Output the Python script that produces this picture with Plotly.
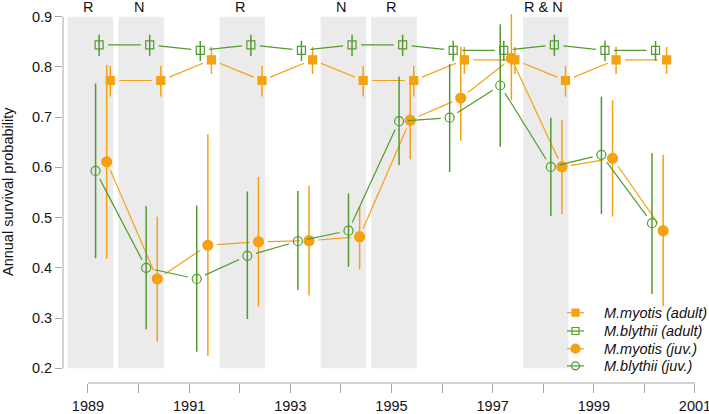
import math
import plotly.graph_objects as go

# ---------------- data ----------------
years = list(range(1989, 2001))

myo_ad = [0.773, 0.773, 0.814, 0.773, 0.814, 0.773, 0.773, 0.814, 0.814, 0.773, 0.814, 0.814]
myo_ad_lo = [0.741, 0.741, 0.786, 0.741, 0.786, 0.741, 0.741, 0.786, 0.786, 0.741, 0.786, 0.786]
myo_ad_hi = [0.802, 0.802, 0.840, 0.802, 0.840, 0.802, 0.802, 0.840, 0.840, 0.802, 0.840, 0.840]

bly_ad = [0.844, 0.844, 0.833, 0.844, 0.833, 0.844, 0.844, 0.833, 0.833, 0.844, 0.833, 0.833]
bly_ad_lo = [0.822, 0.822, 0.812, 0.822, 0.812, 0.822, 0.822, 0.812, 0.812, 0.822, 0.812, 0.812]
bly_ad_hi = [0.864, 0.864, 0.852, 0.864, 0.852, 0.864, 0.864, 0.852, 0.852, 0.864, 0.852, 0.852]

myo_juv = [0.611, 0.378, 0.445, 0.452, 0.454, 0.462, 0.694, 0.738, 0.817, 0.601, 0.618, 0.474]
myo_juv_lo = [0.418, 0.253, 0.225, 0.323, 0.345, 0.397, 0.616, 0.653, 0.734, 0.507, 0.502, 0.324]
myo_juv_hi = [0.804, 0.502, 0.666, 0.581, 0.563, 0.522, 0.780, 0.840, 0.905, 0.694, 0.734, 0.625]

bly_juv = [0.593, 0.400, 0.378, 0.424, 0.453, 0.474, 0.692, 0.699, 0.763, 0.601, 0.625, 0.489]
bly_juv_lo = [0.419, 0.278, 0.233, 0.298, 0.356, 0.402, 0.605, 0.591, 0.641, 0.503, 0.507, 0.348]
bly_juv_hi = [0.767, 0.523, 0.524, 0.552, 0.553, 0.548, 0.781, 0.806, 0.885, 0.699, 0.741, 0.628]

# x offsets of each series within a year
off_bly_juv, off_bly_ad, off_myo_juv, off_myo_ad = 0.15, 0.22, 0.37, 0.44

# shaded periods and their labels
band_start = [1988.6, 1989.6, 1991.6, 1993.6, 1994.6, 1997.6]
band_end = [1989.5, 1990.5, 1992.5, 1994.5, 1995.5, 1998.5]
label_years = [1989, 1990, 1992, 1994, 1995, 1998]
label_texts = ["R", "N", "R", "N", "R", "R & N"]

x_tick_vals = list(range(1989, 2002))
x_tick_text = [str(v) if v % 2 == 1 else "" for v in x_tick_vals]
y_tick_vals = [0.2, 0.3, 0.4, 0.5, 0.6, 0.7, 0.8, 0.9]

# ---------------- styling / layout ----------------
ORANGE = "#F4A112"
GREEN = "#519B2E"
BAND = "#EBEBEB"
AXC = "#A6A6A6"
FONT = "Liberation Sans, Arial, sans-serif"
FS = 14.5

W, H = 709, 414
ML, MR, MT, MB = 63, 9, 3, 31
XR = [1988.506, 2001.099]
YR = [0.17075, 0.92727]
SX = (W - ML - MR) / (XR[1] - XR[0])
SY = (H - MT - MB) / (YR[1] - YR[0])
GAP = 9.0

# legend layout (page pixels)
LEG_X0, LEG_X1, LEG_TX = 567, 584, 602
LEG_ROWS = [312.7, 331.0, 348.7, 365.9]


def gapped(xs, ys, gap=GAP):
    X, Y = [], []
    for i in range(len(xs) - 1):
        dx = (xs[i + 1] - xs[i]) * SX
        dy = (ys[i + 1] - ys[i]) * SY
        d = math.hypot(dx, dy)
        if d <= 2 * gap:
            continue
        f = gap / d
        X += [xs[i] + (xs[i + 1] - xs[i]) * f, xs[i + 1] - (xs[i + 1] - xs[i]) * f, None]
        Y += [ys[i] + (ys[i + 1] - ys[i]) * f, ys[i + 1] - (ys[i + 1] - ys[i]) * f, None]
    return X, Y


series = [
    ("M.myotis (adult)", off_myo_ad, myo_ad, myo_ad_lo, myo_ad_hi, ORANGE, "square", 8),
    ("M.blythii (adult)", off_bly_ad, bly_ad, bly_ad_lo, bly_ad_hi, GREEN, "square-open", 8),
    ("M.myotis (juv.)", off_myo_juv, myo_juv, myo_juv_lo, myo_juv_hi, ORANGE, "circle", 10),
    ("M.blythii (juv.)", off_bly_juv, bly_juv, bly_juv_lo, bly_juv_hi, GREEN, "circle-open", 9),
]

fig = go.Figure()

for name, off, vals, lo, hi, col, sym, size in series:
    xs = [y + off for y in years]
    gx, gy = gapped(xs, vals)
    fig.add_trace(go.Scatter(x=gx, y=gy, mode="lines", line=dict(color=col, width=1.2),
                             showlegend=False, hoverinfo="skip"))
    fig.add_trace(go.Scatter(
        x=xs, y=vals, mode="markers",
        marker=dict(symbol=sym, size=size, color=col, line=dict(color=col, width=1.2)),
        error_y=dict(type="data", symmetric=False,
                     array=[h - v for h, v in zip(hi, vals)],
                     arrayminus=[v - l for v, l in zip(vals, lo)],
                     color=col, thickness=1.5, width=0),
        showlegend=False, name=name))

annotations = []
# custom legend drawn on an overlay axis measured in page pixels
for (name, off, vals, lo, hi, col, sym, size), ry in zip(series, LEG_ROWS):
    fig.add_trace(go.Scatter(x=[LEG_X0, LEG_X1], y=[ry, ry], mode="lines",
                             line=dict(color=col, width=1.2), xaxis="x2", yaxis="y2",
                             showlegend=False, hoverinfo="skip"))
    fig.add_trace(go.Scatter(x=[(LEG_X0 + LEG_X1) / 2], y=[ry], mode="markers",
                             marker=dict(symbol=sym, size=size - 1, color=col,
                                         line=dict(color=col, width=1.2)),
                             xaxis="x2", yaxis="y2", showlegend=False, hoverinfo="skip"))
    annotations.append(dict(x=LEG_TX, y=ry, xref="x2", yref="y2", text="<i>" + name + "</i>",
                            xanchor="left", yanchor="middle", showarrow=False,
                            font=dict(size=FS, color="#111", family=FONT)))

shapes = []
for s, e in zip(band_start, band_end):
    shapes.append(dict(type="rect", xref="x", yref="y", x0=s, x1=e, y0=0.2, y1=0.9,
                       fillcolor=BAND, line=dict(width=0), layer="below"))
shapes.append(dict(type="line", xref="x", yref="paper", x0=x_tick_vals[0], x1=x_tick_vals[-1], y0=0, y1=0,
                   line=dict(color=AXC, width=1)))
shapes.append(dict(type="line", xref="paper", yref="y", x0=0, x1=0, y0=y_tick_vals[0], y1=y_tick_vals[-1],
                   line=dict(color=AXC, width=1)))

for yr, t in zip(label_years, label_texts):
    annotations.append(dict(x=yr, y=0.919, xref="x", yref="y", text=t, showarrow=False,
                            yanchor="middle",
                            font=dict(size=FS, color="#111", family=FONT)))
annotations.append(dict(x=(8 - ML) / (W - ML - MR), y=(H - MB - 192) / (H - MT - MB),
                        xref="paper", yref="paper", xanchor="center", yanchor="middle",
                        text="Annual survival probability", textangle=-90, showarrow=False,
                        font=dict(size=FS, color="#111", family=FONT)))

fig.update_layout(
    width=W, height=H,
    margin=dict(l=ML, r=MR, t=MT, b=MB, autoexpand=False),
    plot_bgcolor="white", paper_bgcolor="white",
    font=dict(family=FONT, color="#111"),
    shapes=shapes, annotations=annotations,
    showlegend=False,
    xaxis=dict(range=XR, showgrid=False, zeroline=False, showline=False, automargin=False,
               tickvals=x_tick_vals, ticktext=x_tick_text, ticks="outside", ticklen=9,
               tickcolor=AXC, tickwidth=1, ticklabelstandoff=1, ticklabeloverflow="allow",
               tickfont=dict(size=FS, family=FONT, color="#111")),
    yaxis=dict(range=YR, showgrid=False, zeroline=False, showline=False, automargin=False,
               tickvals=y_tick_vals, tickformat=".1f", ticks="outside", ticklen=7,
               tickcolor=AXC, tickwidth=1,
               tickfont=dict(size=FS, family=FONT, color="#111")),
    xaxis2=dict(overlaying="x", anchor="y2", range=[ML, W - MR], visible=False,
                fixedrange=True, automargin=False),
    yaxis2=dict(overlaying="y", anchor="x2", range=[H - MB, MT], visible=False,
                fixedrange=True, automargin=False),
)

fig.write_html("out.html", config={"displayModeBar": False},
               post_script="document.body.style.margin='0px';document.body.style.padding='0px';")
